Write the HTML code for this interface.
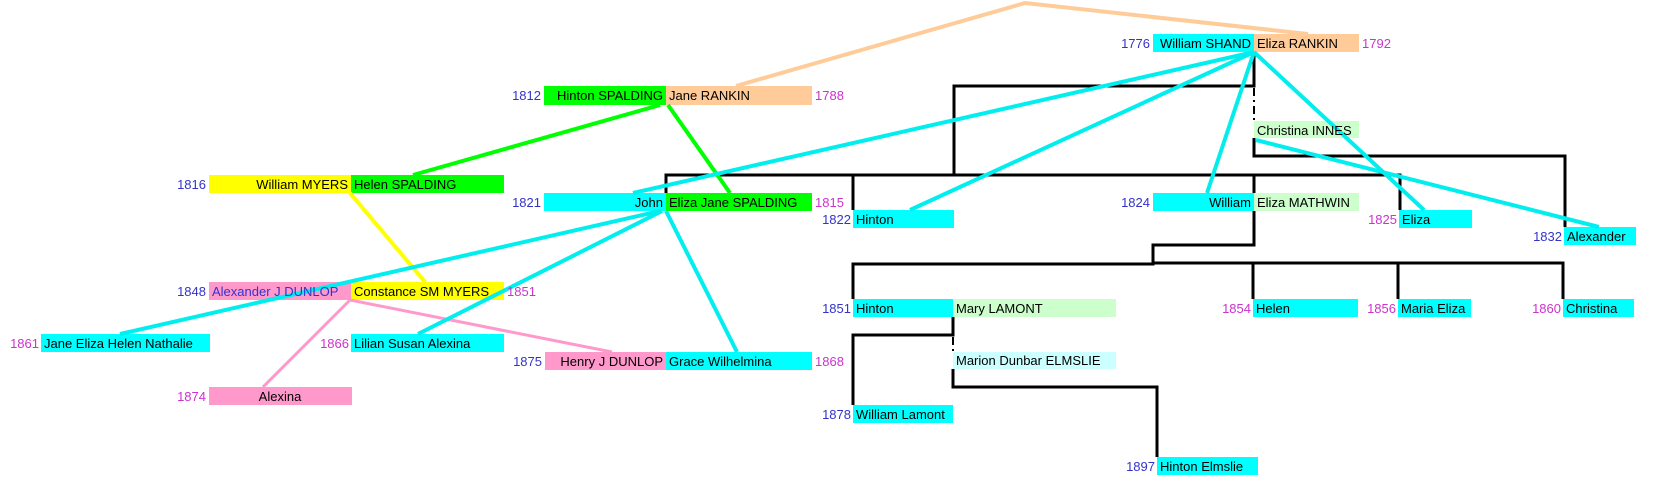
<!DOCTYPE html>
<html><head><meta charset="utf-8"><style>
html,body{margin:0;padding:0;background:#fff;}
svg{display:block;font-family:"Liberation Sans",Arial,sans-serif;font-size:13px;}
.b{fill:#3333cc}.m{fill:#cc33cc}
</style></head><body>
<svg width="1669" height="491" viewBox="0 0 1669 491" xmlns="http://www.w3.org/2000/svg">
<!-- boxes -->
<rect x="1153" y="34" width="101" height="18" fill="#00ffff"/>
<rect x="1254" y="34" width="105" height="18" fill="#ffcc99"/>
<rect x="1254" y="121" width="105" height="17" fill="#ccffcc"/>
<rect x="544" y="86" width="122" height="19" fill="#00ff00"/>
<rect x="666" y="86" width="146" height="19" fill="#ffcc99"/>
<rect x="209" y="175" width="142" height="18" fill="#ffff00"/>
<rect x="351" y="175" width="153" height="18" fill="#00ff00"/>
<rect x="544" y="193" width="122" height="18" fill="#00ffff"/>
<rect x="666" y="193" width="146" height="18" fill="#00ff00"/>
<rect x="853" y="210" width="101" height="18" fill="#00ffff"/>
<rect x="1153" y="193" width="101" height="18" fill="#00ffff"/>
<rect x="1254" y="193" width="105" height="18" fill="#ccffcc"/>
<rect x="1399" y="210" width="73" height="18" fill="#00ffff"/>
<rect x="1564" y="227" width="72" height="18" fill="#00ffff"/>
<rect x="209" y="282" width="142" height="18" fill="#ff99cc"/>
<rect x="351" y="282" width="153" height="18" fill="#ffff00"/>
<rect x="41" y="334" width="169" height="18" fill="#00ffff"/>
<rect x="351" y="334" width="153" height="18" fill="#00ffff"/>
<rect x="209" y="387" width="143" height="18" fill="#ff99cc"/>
<rect x="545" y="352" width="121" height="18" fill="#ff99cc"/>
<rect x="666" y="352" width="146" height="18" fill="#00ffff"/>
<rect x="853" y="299" width="100" height="18" fill="#00ffff"/>
<rect x="953" y="299" width="163" height="18" fill="#ccffcc"/>
<rect x="953" y="352" width="163" height="17" fill="#ccffff"/>
<rect x="853" y="405" width="100" height="18" fill="#00ffff"/>
<rect x="1157" y="457" width="101" height="18" fill="#00ffff"/>
<rect x="1253" y="299" width="105" height="18" fill="#00ffff"/>
<rect x="1398" y="299" width="73" height="18" fill="#00ffff"/>
<rect x="1563" y="299" width="71" height="18" fill="#00ffff"/>

<!-- black tree lines -->
<g stroke="#000" stroke-width="3" fill="none">
<polyline points="1254,52 1254,86 954,86 954,175"/>
<polyline points="666,193 666,175 1400,175 1400,210"/>
<line x1="853" y1="175" x2="853" y2="210"/>
<line x1="1254" y1="175" x2="1254" y2="193"/>
<polyline points="1254,138 1254,156 1565,156 1565,227"/>
<polyline points="1254,211 1254,245 1153,245 1153,263 1563,263 1563,299"/>
<line x1="1253" y1="263" x2="1253" y2="299"/>
<line x1="1398" y1="263" x2="1398" y2="299"/>
<polyline points="1153,245 1153,264 853,264 853,299"/>
<polyline points="953,317 953,335 853,335 853,405"/>
<polyline points="953,369 953,387 1157,387 1157,457"/>
</g>
<g stroke="#000" stroke-width="2" stroke-dasharray="8,4,2,4">
<line x1="1254" y1="88" x2="1254" y2="120"/>
<line x1="953" y1="337" x2="953" y2="352"/>
</g>

<!-- colored relation lines -->
<polyline points="736,86 1025,3 1308,34" stroke="#ffcc99" stroke-width="4" fill="none"/>
<g stroke="#00ff00" stroke-width="4">
<line x1="660" y1="105" x2="413" y2="175"/>
<line x1="668" y1="105" x2="730" y2="193"/>
</g>
<line x1="350" y1="193" x2="425" y2="282" stroke="#ffff00" stroke-width="4"/>
<g stroke="#ff99cc" stroke-width="3">
<line x1="350" y1="300" x2="263" y2="387"/>
<line x1="350" y1="300" x2="612" y2="352"/>
</g>
<g stroke="#00eeee" stroke-width="4">
<line x1="1254" y1="52" x2="633" y2="193"/>
<line x1="1254" y1="52" x2="910" y2="210"/>
<line x1="1254" y1="52" x2="1207" y2="193"/>
<line x1="1254" y1="52" x2="1424" y2="210"/>
<line x1="1256" y1="140" x2="1599" y2="227"/>
<line x1="660" y1="211" x2="120" y2="334"/>
<line x1="662" y1="211" x2="418" y2="334"/>
<line x1="666" y1="211" x2="737" y2="352"/>
</g>

<!-- names -->
<g fill="#000">
<text x="1251" y="48" text-anchor="end">William SHAND</text>
<text x="1257" y="48">Eliza RANKIN</text>
<text x="1257" y="135">Christina INNES</text>
<text x="663" y="100" text-anchor="end">Hinton SPALDING</text>
<text x="669" y="100">Jane RANKIN</text>
<text x="348" y="189" text-anchor="end">William MYERS</text>
<text x="354" y="189">Helen SPALDING</text>
<text x="663" y="207" text-anchor="end">John</text>
<text x="669" y="207">Eliza Jane SPALDING</text>
<text x="856" y="224">Hinton</text>
<text x="1251" y="207" text-anchor="end">William</text>
<text x="1257" y="207">Eliza MATHWIN</text>
<text x="1402" y="224">Eliza</text>
<text x="1567" y="241">Alexander</text>
<text x="354" y="296">Constance SM MYERS</text>
<text x="44" y="348">Jane Eliza Helen Nathalie</text>
<text x="354" y="348">Lilian Susan Alexina</text>
<text x="280" y="401" text-anchor="middle">Alexina</text>
<text x="663" y="366" text-anchor="end">Henry J DUNLOP</text>
<text x="669" y="366">Grace Wilhelmina</text>
<text x="856" y="313">Hinton</text>
<text x="956" y="313">Mary LAMONT</text>
<text x="956" y="365">Marion Dunbar ELMSLIE</text>
<text x="856" y="419">William Lamont</text>
<text x="1160" y="471">Hinton Elmslie</text>
<text x="1256" y="313">Helen</text>
<text x="1401" y="313">Maria Eliza</text>
<text x="1566" y="313">Christina</text>
</g>
<text x="212" y="296" class="b">Alexander J DUNLOP</text>

<!-- years -->
<text x="1150" y="48" class="b" text-anchor="end">1776</text>
<text x="1362" y="48" class="m">1792</text>
<text x="541" y="100" class="b" text-anchor="end">1812</text>
<text x="815" y="100" class="m">1788</text>
<text x="206" y="189" class="b" text-anchor="end">1816</text>
<text x="541" y="207" class="b" text-anchor="end">1821</text>
<text x="815" y="207" class="m">1815</text>
<text x="851" y="224" class="b" text-anchor="end">1822</text>
<text x="1150" y="207" class="b" text-anchor="end">1824</text>
<text x="1397" y="224" class="m" text-anchor="end">1825</text>
<text x="1562" y="241" class="b" text-anchor="end">1832</text>
<text x="206" y="296" class="b" text-anchor="end">1848</text>
<text x="507" y="296" class="m">1851</text>
<text x="39" y="348" class="m" text-anchor="end">1861</text>
<text x="349" y="348" class="m" text-anchor="end">1866</text>
<text x="206" y="401" class="m" text-anchor="end">1874</text>
<text x="542" y="366" class="b" text-anchor="end">1875</text>
<text x="815" y="366" class="m">1868</text>
<text x="851" y="313" class="b" text-anchor="end">1851</text>
<text x="851" y="419" class="b" text-anchor="end">1878</text>
<text x="1155" y="471" class="b" text-anchor="end">1897</text>
<text x="1251" y="313" class="m" text-anchor="end">1854</text>
<text x="1396" y="313" class="m" text-anchor="end">1856</text>
<text x="1561" y="313" class="m" text-anchor="end">1860</text>
</svg>
</body></html>
